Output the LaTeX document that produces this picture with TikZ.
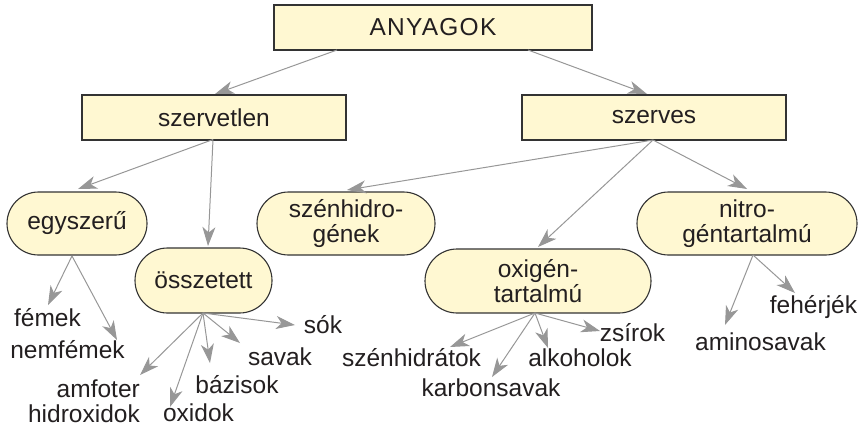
\documentclass[tikz,border=0pt]{standalone}
\usepackage{fontspec}
\setmainfont{Liberation Sans}
\usetikzlibrary{arrows.meta}
\definecolor{boxfill}{HTML}{FFF8D2}
\definecolor{boxline}{HTML}{333333}
\definecolor{arrcol}{HTML}{979797}
\definecolor{txt}{HTML}{231F20}
\begin{document}
\begin{tikzpicture}[x=1pt,y=-1pt,
  every node/.style={font=\fontsize{24.5}{25.5}\selectfont, text=txt, inner sep=0pt},
  rectbox/.style={draw=boxline, line width=1.1pt, fill=boxfill, minimum height=45pt},
  pillbox/.style={draw=boxline, line width=1.1pt, fill=boxfill, rounded corners=31.5pt, minimum height=63pt, align=center},
  leaf/.style={anchor=center},
  arr/.style={draw=arrcol, line width=1pt, -{Stealth[length=19pt,width=13pt,inset=5.5pt]}}
]
\useasboundingbox (0,0) rectangle (861,426);

% boxes
\node[rectbox, minimum width=318pt] (any) at (433,27.5) {\addfontfeature{LetterSpace=5}ANYAGOK};
\node[rectbox, minimum width=264pt] (szt) at (214,117.5) {szervetlen};
\node[rectbox, minimum width=264pt] (szv) at (654,117.5) {szerves};

\node[pillbox, minimum width=140pt] (egy) at (77,223.5) {egyszerű};
\node[pillbox, minimum width=137pt, minimum height=65pt, rounded corners=32.5pt] (ossz) at (203.5,280.5) {összetett};
\node[pillbox, minimum width=178pt] (szh) at (346,223.5) {szénhidro-\\gének};
\node[pillbox, minimum width=226pt, minimum height=64pt, rounded corners=32pt] (oxi) at (538,281) {oxigén-\\tartalmú};
\node[pillbox, minimum width=220pt] (nit) at (747,223.5) {nitro-\\géntartalmú};

% leaves
\node[leaf] (femek) at (47.5,318) {fémek};
\node[leaf] (nemfemek) at (67.5,350) {nemfémek};
\node[leaf, align=right, anchor=east] (amfoter) at (140,401) {amfoter\\hidroxidok};
\node[leaf] (oxidok) at (198.5,412.5) {oxidok};
\node[leaf] (bazisok) at (237,385) {bázisok};
\node[leaf] (savak) at (280,357) {savak};
\node[leaf] (sok) at (323,325) {sók};
\node[leaf] (szhid) at (411.5,358) {szénhidrátok};
\node[leaf] (karb) at (491,388) {karbonsavak};
\node[leaf] (alk) at (580,358) {alkoholok};
\node[leaf] (zsir) at (632.5,333) {zsírok};
\node[leaf] (feh) at (813.5,307) {fehérjék};
\node[leaf] (amino) at (760.5,342) {aminosavak};

% connector ends
\coordinate (anyL) at (337,50);
\coordinate (anyR) at (528,50);
\coordinate (sztO) at (213,139.5);
\coordinate (szvO) at (653,140);
\coordinate (egyO) at (72,256);
\coordinate (osszO) at (203,313);
\coordinate (oxiO) at (535,313);
\coordinate (nitO) at (753,255);

\coordinate (tSzt) at (215,94);
\coordinate (tSzv) at (647,94);
\coordinate (tEgy) at (78,189);
\coordinate (tOssz) at (208,246);
\coordinate (tSzh) at (347,190);
\coordinate (tOxi) at (538,247);
\coordinate (tNit) at (747,189);
\coordinate (tFemek) at (48,305);
\coordinate (tNemfemek) at (117,340);
\coordinate (tAmfoter) at (140,375);
\coordinate (tOxidok) at (170,407);
\coordinate (tBazisok) at (210,363);
\coordinate (tSavak) at (240,343);
\coordinate (tSok) at (295,325);
\coordinate (tSzhid) at (450,347);
\coordinate (tKarb) at (492,377);
\coordinate (tAlk) at (548,348);
\coordinate (tZsir) at (600,331);
\coordinate (tAmino) at (725,325);
\coordinate (tFeh) at (795,293);

\draw[arr] (anyL) -- (tSzt);
\draw[arr] (anyR) -- (tSzv);
\draw[arr] (sztO) -- (tEgy);
\draw[arr] (sztO) -- (tOssz);
\draw[arr] (szvO) -- (tSzh);
\draw[arr] (szvO) -- (tOxi);
\draw[arr] (szvO) -- (tNit);
\draw[arr] (egyO) -- (tFemek);
\draw[arr] (egyO) -- (tNemfemek);
\draw[arr] (osszO) -- (tAmfoter);
\draw[arr] (osszO) -- (tOxidok);
\draw[arr] (osszO) -- (tBazisok);
\draw[arr] (osszO) -- (tSavak);
\draw[arr] (osszO) -- (tSok);
\draw[arr] (oxiO) -- (tSzhid);
\draw[arr] (oxiO) -- (tKarb);
\draw[arr] (oxiO) -- (tAlk);
\draw[arr] (oxiO) -- (tZsir);
\draw[arr] (nitO) -- (tAmino);
\draw[arr] (nitO) -- (tFeh);
\end{tikzpicture}
\end{document}
